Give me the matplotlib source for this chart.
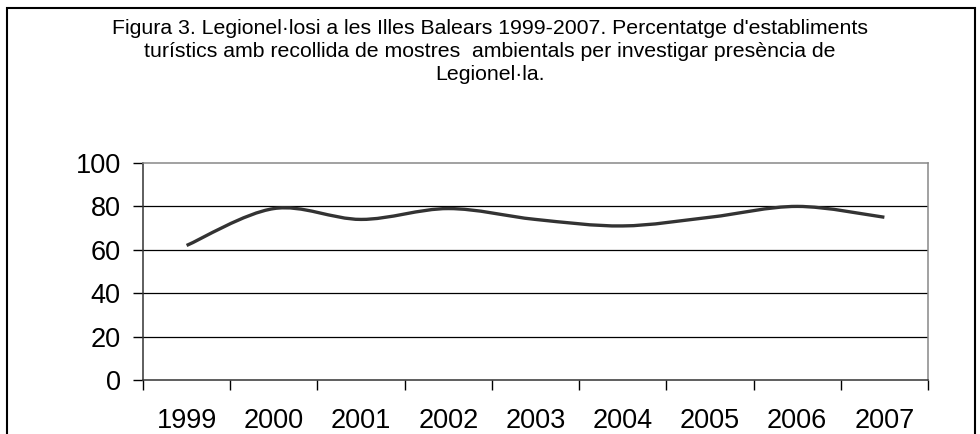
import numpy as np
import matplotlib.pyplot as plt
from matplotlib.path import Path
from matplotlib.patches import PathPatch, Rectangle

plt.rcParams['font.family'] = ['Liberation Sans', 'DejaVu Sans']

# Data
years = ['1999', '2000', '2001', '2002', '2003', '2004', '2005', '2006', '2007']
percent = [62, 79, 74, 79, 74, 71, 75, 80, 75]
title = ("Figura 3. Legionel\u00b7losi a les Illes Balears 1999-2007. Percentatge d'establiments\n"
         "tur\u00edstics amb recollida de mostres  ambientals per investigar pres\u00e8ncia de\n"
         "Legionel\u00b7la.")

# Excel-like smoothed line: Bezier segments through the data points
def smooth_path(x, y, t=1/6):
  x = np.asarray(x, float)
  y = np.asarray(y, float)
  n = len(x)
  verts = [(x[0], y[0])]
  codes = [Path.MOVETO]
  for i in range(n - 1):
    p0 = np.array([x[max(i-1, 0)], y[max(i-1, 0)]])
    p1 = np.array([x[i], y[i]])
    p2 = np.array([x[i+1], y[i+1]])
    p3 = np.array([x[min(i+2, n-1)], y[min(i+2, n-1)]])
    c1 = p1 + (p2 - p0) * t
    c2 = p2 - (p3 - p1) * t
    verts += [tuple(c1), tuple(c2), tuple(p2)]
    codes += [Path.CURVE4] * 3
  return Path(verts, codes)

fig = plt.figure(figsize=(9.8, 4.34), dpi=100)
fig.patch.set_facecolor('white')

# outer frame of the chart
fig.patches.append(Rectangle((7/980, -0.05), 968/980, 1.05 - 8/434, transform=fig.transFigure,
                             fill=False, edgecolor='black', linewidth=1.5))

fig.text(0.5, 1 - 19/434, title, ha='center', va='top', fontsize=15.3,
         linespacing=1.27)

ax = fig.add_axes([143/980, 1 - 380/434, 785/980, 217/434])
xpos = np.arange(len(years))
ax.add_patch(PathPatch(smooth_path(xpos, percent), fill=False, edgecolor='#333333',
                       linewidth=2.4, capstyle='butt', zorder=3))

ax.set_xlim(-0.5, len(years) - 0.5)
ax.set_ylim(0, 100)
ax.set_yticks([0, 20, 40, 60, 80, 100])
ax.set_xticks(xpos)
ax.set_xticklabels(years)
ax.set_xticks(np.arange(-0.5, len(years)), minor=True)
ax.tick_params(axis='x', which='major', length=0, pad=20, labelsize=19.5)
ax.tick_params(axis='x', which='minor', length=7, width=1, direction='out')
ax.tick_params(axis='y', length=7, width=1, direction='out', pad=9, labelsize=19.5)
for v in [20, 40, 60, 80]:
  ax.axhline(v, color='black', linewidth=0.9, zorder=1)
ax.spines['top'].set_color('#888888')
ax.spines['right'].set_color('#888888')
ax.spines['left'].set_color('#333333')
ax.spines['bottom'].set_color('#333333')
for s in ax.spines.values():
  s.set_linewidth(1.1)

fig.savefig('out.png', dpi=100)
